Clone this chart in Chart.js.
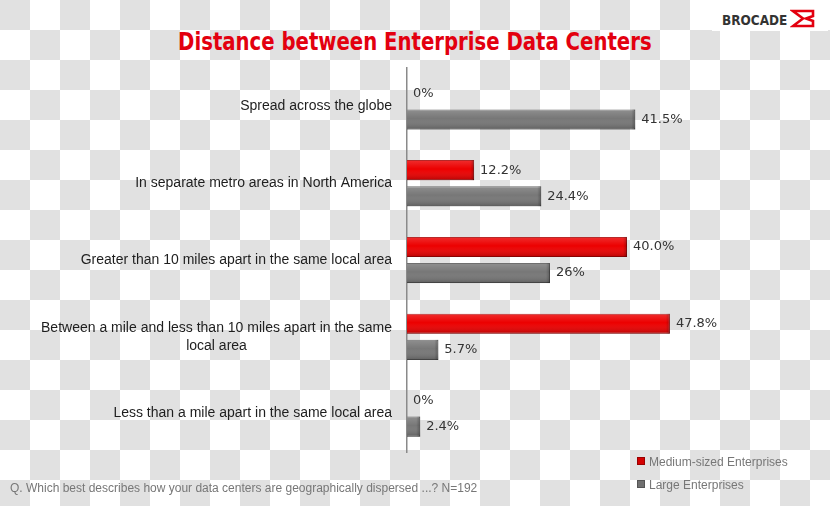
<!DOCTYPE html>
<html>
<head>
<meta charset="utf-8">
<script src="https://cdn.jsdelivr.net/npm/chart.js@4/dist/chart.umd.min.js"></script>
<style>
  html, body { margin: 0; padding: 0; }
  body {
    width: 830px; height: 506px; position: relative; overflow: hidden;
    background-color: #ffffff;
    background-image:
      linear-gradient(45deg, #e1e1e1 25%, transparent 25%, transparent 75%, #e1e1e1 75%),
      linear-gradient(45deg, #e1e1e1 25%, transparent 25%, transparent 75%, #e1e1e1 75%);
    background-size: 60px 60px;
    background-position: 30px 0, 0 30px;
    font-family: "Liberation Sans", Arial, sans-serif;
  }
  #wrap { position: absolute; left: 0; top: 0; width: 830px; height: 506px; }
  #title {
    position: absolute; left: 0; width: 830px; top: 27px; text-align: center;
    font-family: "DejaVu Sans Condensed", sans-serif;
    font-weight: bold; font-size: 25px; color: #e3000f;
    transform: scaleX(0.875); transform-origin: 414px 0;
  }
  #logo {
    position: absolute; left: 712px; top: 0; width: 116px; height: 31px; background: #fff;
  }
  #logo span {
    position: absolute; left: 10px; top: 12px;
    font-family: "DejaVu Sans Condensed", sans-serif;
    font-weight: bold; font-size: 14px; color: #333;
    transform: scaleX(0.96); transform-origin: 0 0;
  }
  #logo svg { position: absolute; left: 78px; top: 8px; }
  #note {
    position: absolute; left: 10px; top: 481px; font-size: 12px; color: #777;
  }
  .leg { position: absolute; left: 637px; font-size: 12px; color: #777; }
  .leg i {
    display: inline-block; width: 6px; height: 6px; margin-right: 4px; vertical-align: 1px;
  }
</style>
</head>
<body>
<div id="title">Distance between Enterprise Data Centers</div>
<div id="logo"><span>BROCADE</span>
  <svg width="26" height="21" viewBox="0 0 26 21">
    <path d="M3,3 L23,3 L23,8 L16,10.5 L23,13 L23,18 L3,18 L13,10.5 Z" fill="none" stroke="#e3000f" stroke-width="2.6" stroke-linejoin="miter"/>
  </svg>
</div>
<div id="wrap"><canvas id="chart" width="830" height="506"></canvas></div>
<div id="note">Q. Which best describes how your data centers are geographically dispersed ...? N=192</div>
<div class="leg" style="top:455px"><i style="background:#d40000;border:1px solid #900"></i>Medium-sized Enterprises</div>
<div class="leg" style="top:478px"><i style="background:#707070;border:1px solid #555"></i>Large Enterprises</div>

<script>
const categories = [
  ['Spread across the globe'],
  ['In separate metro areas in North America'],
  ['Greater than 10 miles apart in the same local area'],
  ['Between a mile and less than 10 miles apart in the same', 'local area'],
  ['Less than a mile apart in the same local area']
];
const seriesNames = ['Medium-sized Enterprises', 'Large Enterprises'];
const mediumValues = [0, 12.2, 40.0, 47.8, 0];
const largeValues = [41.5, 24.4, 26, 5.7, 2.4];
const mediumLabels = ['0%', '12.2%', '40.0%', '47.8%', '0%'];
const largeLabels = ['41.5%', '24.4%', '26%', '5.7%', '2.4%'];

// soft bevel on each bar, like the original's shaded bars
const barShade = {
  id: 'barShade',
  afterDatasetsDraw(chart) {
    const ctx = chart.ctx;
    chart.data.datasets.forEach((ds, di) => {
      chart.getDatasetMeta(di).data.forEach(bar => {
        const p = bar.getProps(['x', 'y', 'base', 'height']);
        const w = p.x - p.base;
        if (w <= 0) return;
        const top = p.y - p.height / 2;
        const g = ctx.createLinearGradient(0, top, 0, top + p.height);
        g.addColorStop(0, 'rgba(255,255,255,0.18)');
        g.addColorStop(0.45, 'rgba(255,255,255,0)');
        g.addColorStop(1, 'rgba(0,0,0,0.22)');
        ctx.save();
        ctx.fillStyle = g;
        ctx.fillRect(p.base, top, w, p.height);
        const gr = ctx.createLinearGradient(p.x - 4, 0, p.x, 0);
        gr.addColorStop(0, 'rgba(0,0,0,0)');
        gr.addColorStop(1, 'rgba(0,0,0,0.25)');
        ctx.fillStyle = gr;
        ctx.fillRect(Math.max(p.base, p.x - 4), top, Math.min(4, w), p.height);
        ctx.restore();
      });
    });
  }
};

const valueLabels = {
  id: 'valueLabels',
  afterDatasetsDraw(chart) {
    const ctx = chart.ctx;
    const texts = [mediumLabels, largeLabels];
    ctx.save();
    ctx.font = '13px "DejaVu Sans", Verdana, sans-serif';
    ctx.fillStyle = '#333';
    ctx.textAlign = 'left';
    ctx.textBaseline = 'middle';
    chart.data.datasets.forEach((ds, di) => {
      chart.getDatasetMeta(di).data.forEach((bar, i) => {
        ctx.fillText(texts[di][i], bar.x + 6, bar.y);
      });
    });
    ctx.restore();
  }
};

const categoryLabels = {
  id: 'categoryLabels',
  afterDraw(chart) {
    const ctx = chart.ctx;
    const y = chart.scales.y;
    const right = 392;
    const lh = 18;
    ctx.save();
    ctx.font = '14px "Liberation Sans", Arial, sans-serif';
    ctx.fillStyle = '#1e1e1e';
    ctx.textBaseline = 'middle';
    ctx.textAlign = 'center';
    categories.forEach((lines, i) => {
      const cy = y.getPixelForValue(i);
      const w = Math.max(...lines.map(l => ctx.measureText(l).width));
      const cx = right - w / 2;
      lines.forEach((l, k) => {
        ctx.fillText(l, cx, cy + (k - (lines.length - 1) / 2) * lh);
      });
    });
    ctx.restore();
  }
};

new Chart(document.getElementById('chart'), {
  type: 'bar',
  data: {
    labels: categories,
    datasets: [{
      label: seriesNames[0],
      data: mediumValues,
      backgroundColor: '#ec0000',
      borderColor: '#a80000',
      borderWidth: 1,
      borderSkipped: 'start',
      categoryPercentage: 0.68,
      barPercentage: 0.77
    }, {
      label: seriesNames[1],
      data: largeValues,
      backgroundColor: '#777777',
      borderColor: '#525252',
      borderWidth: 1,
      borderSkipped: 'start',
      categoryPercentage: 0.68,
      barPercentage: 0.77
    }]
  },
  options: {
    indexAxis: 'y',
    responsive: false,
    animation: false,
    layout: { padding: { left: 407, top: 68, right: 38, bottom: 54 } },
    plugins: {
      legend: { display: false },
      tooltip: { enabled: false }
    },
    scales: {
      x: { display: false, min: 0, max: 70 },
      y: {
        grid: { display: false, drawTicks: false },
        ticks: { display: false },
        border: { display: true, color: '#8a8a8a', width: 1.5 }
      }
    }
  },
  plugins: [barShade, valueLabels, categoryLabels]
});
</script>
</body>
</html>
